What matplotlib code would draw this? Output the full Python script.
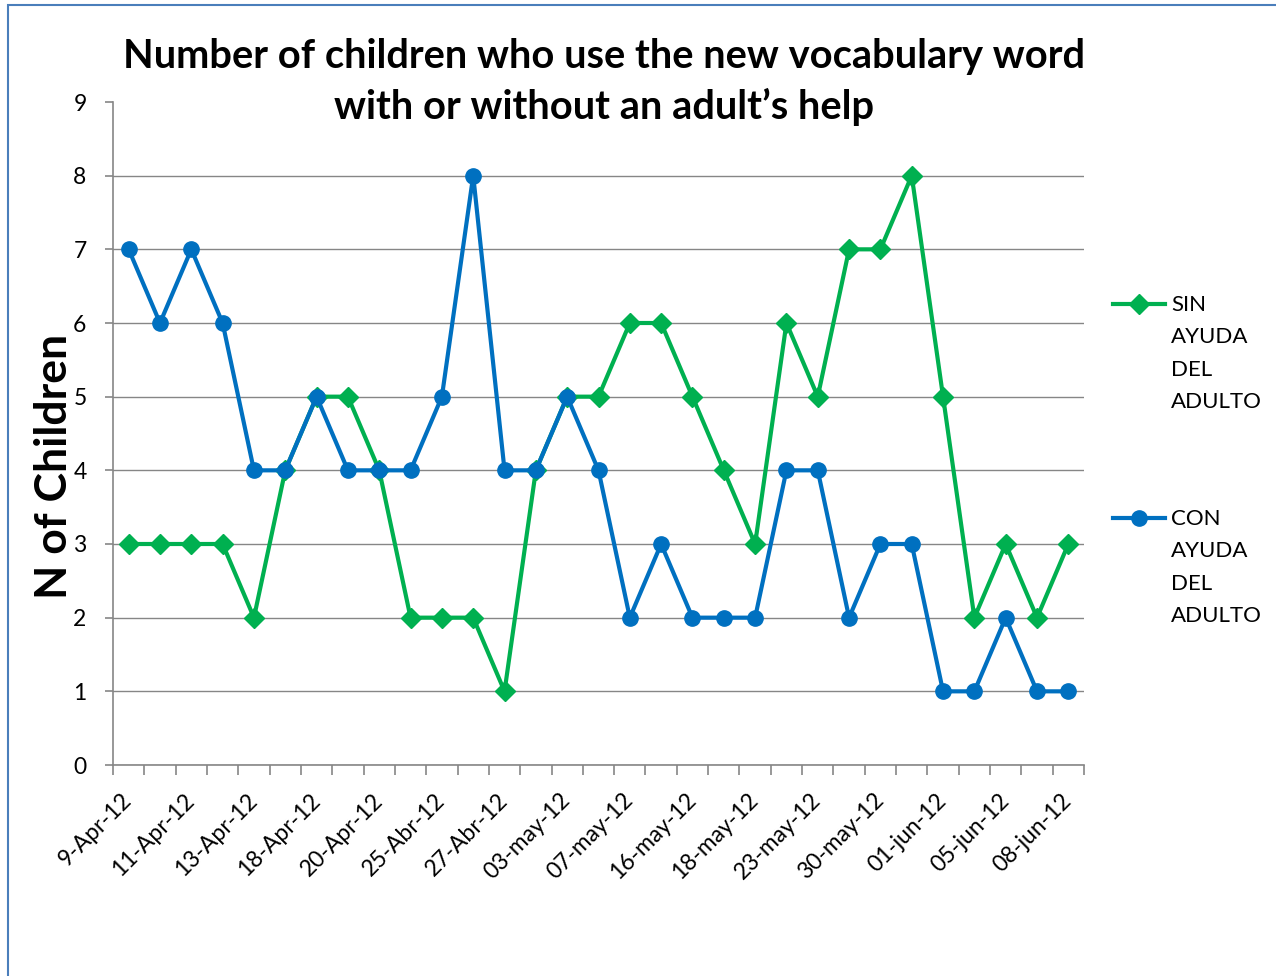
import numpy as np
import matplotlib
matplotlib.use("Agg")
import matplotlib.pyplot as plt
from matplotlib.lines import Line2D
from matplotlib.patches import Rectangle

plt.rcParams['font.family'] = ['Lato', 'DejaVu Sans']

# one value per session (31 sessions), labels shown every other session
date_labels = ['9-Apr-12', '11-Apr-12', '13-Apr-12', '18-Apr-12', '20-Apr-12',
               '25-Abr-12', '27-Abr-12', '03-may-12', '07-may-12', '16-may-12',
               '18-may-12', '23-may-12', '30-may-12', '01-jun-12', '05-jun-12',
               '08-jun-12']
sin_ayuda = [3, 3, 3, 3, 2, 4, 5, 5, 4, 2, 2, 2, 1, 4, 5, 5,
             6, 6, 5, 4, 3, 6, 5, 7, 7, 8, 5, 2, 3, 2, 3]
con_ayuda = [7, 6, 7, 6, 4, 4, 5, 4, 4, 4, 5, 8, 4, 4, 5, 4,
             2, 3, 2, 2, 2, 4, 4, 2, 3, 3, 1, 1, 2, 1, 1]
series_names = ['SIN\nAYUDA\nDEL\nADULTO', 'CON\nAYUDA\nDEL\nADULTO']

green = '#00B050'
blue = '#0070C0'
grey = '#868686'

W, H = 1276, 976
fig = plt.figure(figsize=(W / 100, H / 100), dpi=100)
ax = fig.add_axes([113 / W, (H - 765) / H, (1084 - 113) / W, (765 - 102) / H])

x = np.arange(len(sin_ayuda))
ax.plot(x, sin_ayuda, color=green, lw=3, marker='D', ms=10, zorder=3)
ax.plot(x, con_ayuda, color=blue, lw=3, marker='o', ms=11, zorder=3)

ax.set_xlim(-0.5, len(x) - 0.5)
ax.set_ylim(0, 9)
ax.set_yticks(range(10))
ax.yaxis.grid(True, color=grey, lw=1)
ax.get_ygridlines()[-1].set_visible(False)  # no line at the top of the plot area
ax.set_axisbelow(True)
for s in ['top', 'right']:
    ax.spines[s].set_visible(False)
for s in ['left', 'bottom']:
    ax.spines[s].set_color(grey)
    ax.spines[s].set_linewidth(1.2)

ax.set_xticks(x[::2])
ax.set_xticklabels(date_labels, rotation=45, ha='right', va='center',
                   rotation_mode='anchor', fontsize=16.5)
ax.set_xticks(np.arange(-0.5, len(x), 1), minor=True)
ax.tick_params(axis='x', which='major', length=0, pad=23)
ax.tick_params(axis='x', which='minor', length=7, color=grey, width=1.2)
ax.tick_params(axis='y', length=6, color=grey, width=1.2, labelsize=16.5, pad=13)

fig.text(54 / W, 1 - 466 / H, 'N of Children', rotation=90, ha='center', va='center',
         fontsize=32, fontweight='bold')

fig.text(604 / W, 1 - 82 / H, 'Number of children who use the new vocabulary word\nwith or without an adult\u2019s help',
         ha='center', va='center', fontsize=28.7, fontweight='bold', linespacing=1.42)

# legend drawn by hand to mimic the stacked labels
for name, col, mk, ytop in [(series_names[0], green, 'D', 304), (series_names[1], blue, 'o', 518)]:
    fig.add_artist(Line2D([1113 / W, 1165 / W], [1 - ytop / H] * 2, color=col, lw=3,
                          transform=fig.transFigure))
    fig.add_artist(Line2D([1139 / W], [1 - ytop / H], color=col, marker=mk,
                          ms=10 if mk == 'D' else 11, transform=fig.transFigure))
    fig.text(1171 / W, 1 - (ytop - 9) / H, name, ha='left', va='top', fontsize=16,
             linespacing=1.78)

fig.add_artist(Rectangle((8 / W, -0.05), 1.2, 1 - 5 / H + 0.05, transform=fig.transFigure,
                         fill=False, edgecolor='#4a7ebb', lw=1.5))

fig.savefig('out.png', dpi=100)
